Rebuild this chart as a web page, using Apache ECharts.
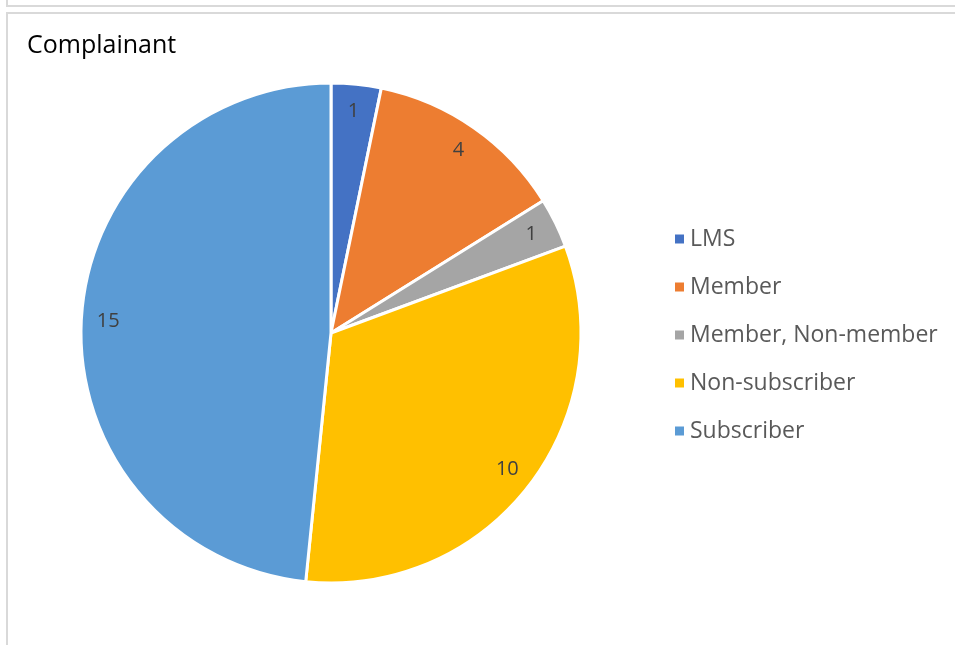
<!DOCTYPE html>
<html>
<head>
<meta charset="utf-8">
<script src="https://cdn.jsdelivr.net/npm/echarts@6/dist/echarts.min.js"></script>
<style>
  html, body { margin: 0; padding: 0; background: #fff; }
  #chartPie { width: 955px; height: 645px; }
</style>
</head>
<body>
<div id="chartPie"></div>
<script>
// 数据
var categories = ['LMS', 'Member', 'Member, Non-member', 'Non-subscriber', 'Subscriber'];
var counts = [1, 4, 1, 10, 15];
var colors = ['#4472C4', '#ED7D31', '#A5A5A5', '#FFC000', '#5B9BD5'];

var pieData = categories.map(function (name, i) {
    return { name: name, value: counts[i] };
});

var chartPie = {
    color: colors,
    animation: false,
    title: {
        text: 'Complainant',
        left: 22,
        top: 28,
        textStyle: {
            color: '#000',
            fontFamily: 'Open Sans',
            fontSize: 25,
            fontWeight: 'normal'
        }
    },
    legend: {
        data: categories,
        orient: 'vertical',
        left: 668,
        top: 222,
        itemWidth: 11,
        itemHeight: 11,
        itemGap: 24,
        icon: 'rect',
        textStyle: {
            color: '#595959',
            fontFamily: 'Open Sans',
            fontSize: 23,
            lineHeight: 24
        }
    },
    graphic: [
        {
            type: 'rect',
            shape: { x: 7, y: -20, width: 1000, height: 26 },
            style: { fill: 'none', stroke: '#d9d9d9', lineWidth: 2 },
            silent: true
        },
        {
            type: 'rect',
            shape: { x: 7, y: 13, width: 1000, height: 700 },
            style: { fill: 'none', stroke: '#d9d9d9', lineWidth: 2 },
            silent: true
        }
    ],
    series: [
        {
            name: 'Complainant',
            type: 'pie',
            center: [331, 333],
            radius: [0, 250],
            startAngle: 90,
            clockwise: true,
            itemStyle: { borderColor: '#fff', borderWidth: 3 },
            label: { show: false },
            labelLine: { show: false },
            emphasis: { disabled: true },
            data: pieData
        },
        {
            // 标签层
            name: 'labels',
            type: 'pie',
            silent: true,
            legendHoverLink: false,
            center: [331, 333],
            radius: [190, 250],
            startAngle: 90,
            clockwise: true,
            itemStyle: { color: 'transparent', borderWidth: 0 },
            label: {
                show: true,
                position: 'inside',
                color: '#404040',
                fontFamily: 'Open Sans',
                fontSize: 20,
                formatter: '{c}'
            },
            labelLine: { show: false },
            emphasis: { disabled: true },
            data: pieData
        }
    ]
};

var myChartPie = echarts.init(document.getElementById('chartPie'));
myChartPie.setOption(chartPie);
</script>
</body>
</html>
